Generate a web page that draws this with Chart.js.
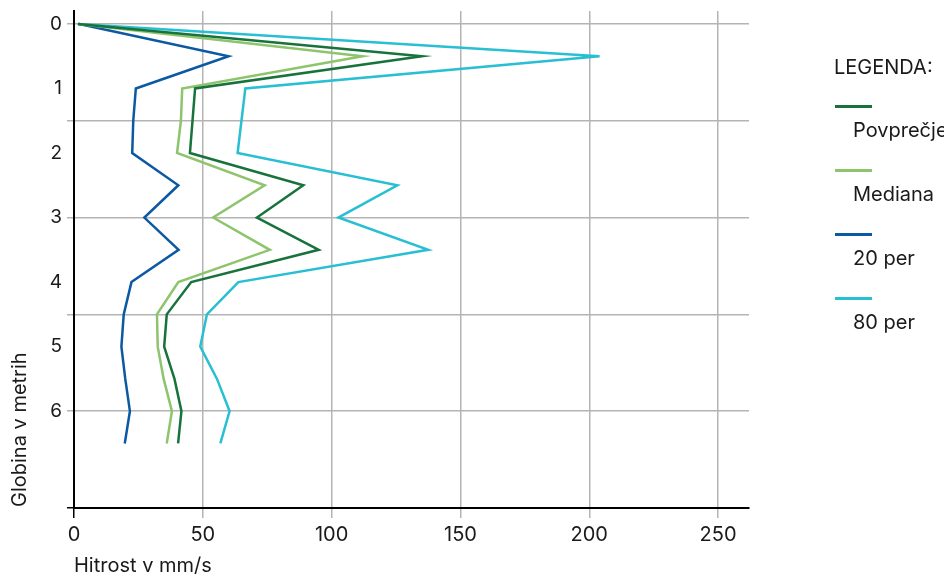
<!DOCTYPE html>
<html>
<head>
<meta charset="utf-8">
<script src="https://cdn.jsdelivr.net/npm/chart.js@4/dist/chart.umd.min.js"></script>
<style>
  body { margin: 0; background: #fff; font-family: Inter, sans-serif; }
  #wrap { position: relative; width: 944px; height: 578px; }
  #legend { position: absolute; left: 834px; top: 0; font-size: 20px; line-height: 24px; color: #1a1a1a; }
  #legend .title { position: absolute; top: 55px; white-space: nowrap; }
  #legend .swatch { position: absolute; left: 1px; width: 37px; height: 3px; }
  #legend .lbl { position: absolute; left: 19px; white-space: nowrap; }
  #ytitle {
    position: absolute; left: 7px; top: 507px;
    font-size: 20px; line-height: 24px; color: #1a1a1a; white-space: nowrap;
    transform-origin: left top; transform: rotate(-90deg);
  }
</style>
</head>
<body>
<div id="wrap">
  <canvas id="chart"></canvas>
  <div id="ytitle">Globina v metrih</div>
  <div id="legend"></div>
</div>
<script>
// ================== DATA ==================
const depths = [0, 0.5, 1, 1.5, 2, 2.5, 3, 3.5, 4, 4.5, 5, 5.5, 6, 6.5];

const povprecje = [1.5, 135, 47, 46, 45, 89, 71, 95, 45.5, 36, 35, 39, 41.7, 40.4];
const mediana   = [1.5, 112, 42, 41.5, 40, 74, 54, 76, 40.5, 32.2, 32.5, 34.8, 38, 36];
const per20     = [2, 60, 24, 23, 22.6, 40.5, 27.3, 40.6, 22.3, 19.3, 18.4, 19.9, 21.7, 19.7];
const per80     = [1.5, 204, 66.5, 65, 63.5, 125.5, 102.6, 137.5, 63.8, 51.6, 49, 55.5, 60.4, 56.8];

const seriesNames = ["Povprečje", "Mediana", "20 per", "80 per"];
const depthLabels = [0, 1, 2, 3, 4, 5, 6];
const depthGrid   = [0, 1.5, 3, 4.5, 6];
const speedTicks  = [0, 50, 100, 150, 200, 250];

// ================== CHART ==================
const colors = ["#17723c", "#8dc46c", "#0b58a3", "#29bfd2"];
const allSeries = [povprecje, mediana, per20, per80];
const GRID = "#b4b4b4";
const AXIS_BOTTOM = 7.5;

const datasets = allSeries.map((vals, i) => ({
    label: seriesNames[i],
    data: vals.map((v, k) => ({ x: v, y: depths[k] })),
    borderColor: colors[i],
    backgroundColor: colors[i],
    borderWidth: 2.5,
    pointRadius: 0,
    tension: 0,
    fill: false
}));

Chart.defaults.font.family = "Inter, sans-serif";
Chart.defaults.font.size = 20;
Chart.defaults.color = "#1a1a1a";

const chart = new Chart(document.getElementById("chart"), {
    type: "line",
    data: { datasets },
    options: {
        responsive: true,
        maintainAspectRatio: false,
        animation: false,
        layout: { padding: { top: 11, right: 195, left: 0, bottom: 0 } },
        plugins: { legend: { display: false }, tooltip: { enabled: false } },
        scales: {
            x: {
                type: "linear",
                min: 0,
                max: 262,
                afterBuildTicks: s => { s.ticks = speedTicks.map(v => ({ value: v })); },
                afterFit: s => {
                    s.height = 70;
                    s.paddingLeft = 0;
                    s.paddingRight = 0;
                },
                ticks: { padding: 5, maxRotation: 0, callback: v => String(v) },
                grid: {
                    color: c => c.tick && c.tick.value === 0 ? "rgba(0,0,0,0)" : GRID,
                    tickColor: c => c.tick && c.tick.value === 0 ? "#000" : GRID,
                    lineWidth: 1.5,
                    tickLength: 10
                },
                border: { color: "#000", width: 2 },
                title: {
                    display: true,
                    text: "Hitrost v mm/s",
                    align: "start",
                    padding: { top: 0, bottom: 0 }
                }
            },
            y: {
                type: "linear",
                reverse: true,
                min: -0.2,
                max: AXIS_BOTTOM,
                afterBuildTicks: s => {
                    const vals = [...new Set([...depthLabels, ...depthGrid, AXIS_BOTTOM])].sort((a, b) => a - b);
                    s.ticks = vals.map(v => ({ value: v }));
                },
                afterFit: s => {
                    s.width = 74;
                    s.paddingTop = 0;
                    s.paddingBottom = 0;
                },
                ticks: {
                    padding: 5,
                    font: { size: 19 },
                    callback: v => depthLabels.includes(v) ? String(v) : ""
                },
                grid: {
                    color: c => c.tick && depthGrid.includes(c.tick.value) ? GRID : "rgba(0,0,0,0)",
                    tickColor: c => {
                        if (!c.tick) return "rgba(0,0,0,0)";
                        if (c.tick.value === AXIS_BOTTOM) return "#000";
                        return depthGrid.includes(c.tick.value) ? GRID : "rgba(0,0,0,0)";
                    },
                    lineWidth: 1.5,
                    tickLength: 7
                },
                border: { color: "#000", width: 2 }
                // y title is the rotated #ytitle div (reverse axis flips Chart.js title alignment)
            }
        }
    }
});

// ================== LEGEND ==================
const legend = document.getElementById("legend");
legend.innerHTML = '<div class="title">LEGENDA:</div>';
chart.data.datasets.forEach((ds, i) => {
    const top = 105 + i * 64;
    const sw = document.createElement("div");
    sw.className = "swatch";
    sw.style.top = top + "px";
    sw.style.background = ds.borderColor;
    legend.appendChild(sw);
    const lb = document.createElement("div");
    lb.className = "lbl";
    lb.style.top = (top + 13) + "px";
    lb.innerText = ds.label;
    legend.appendChild(lb);
});
</script>
</body>
</html>
